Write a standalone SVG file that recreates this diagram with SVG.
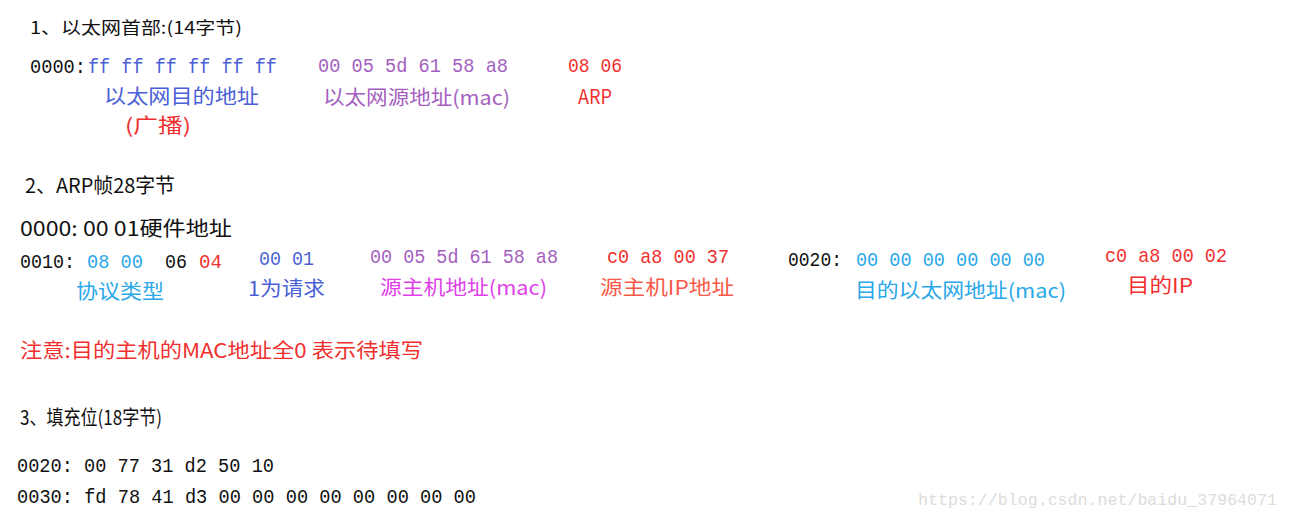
<svg xmlns="http://www.w3.org/2000/svg" width="1289" height="520" viewBox="0 0 1289 520">
<style>
.m{font-family:"Liberation Mono","Noto Sans CJK SC",monospace;font-size:21px}
.c{font-family:"Noto Sans CJK SC","Noto Sans CJK SC",sans-serif;font-size:20px}
.h{font-family:"Noto Sans CJK SC",sans-serif;font-size:17px;fill:#111}
.k{fill:#111}.b{fill:#4b5fd6}.p{fill:#a45fbf}.r{fill:#f0302f}.lb{fill:#2aa8e8}.mg{fill:#e040e8}.s{fill:#f85a4a}
</style>
<rect width="1289" height="520" fill="#fff"/>
<g id="sec1">
<text class="h" x="30" y="34" textLength="212" lengthAdjust="spacingAndGlyphs">1、以太网首部:(14字节)</text>
<text class="m k" x="30" y="73" textLength="56" lengthAdjust="spacingAndGlyphs">0000:</text>
<text class="m b" x="88" y="73" textLength="189" lengthAdjust="spacingAndGlyphs">ff ff ff ff ff ff</text>
<text class="m p" x="318" y="72" textLength="190" lengthAdjust="spacingAndGlyphs">00 05 5d 61 58 a8</text>
<text class="m r" x="568" y="72" textLength="54" lengthAdjust="spacingAndGlyphs">08 06</text>
<text class="c b" x="104" y="104" textLength="155" lengthAdjust="spacingAndGlyphs">以太网目的地址</text>
<text class="c p" x="323" y="105" textLength="187" lengthAdjust="spacingAndGlyphs">以太网源地址(mac)</text>
<text class="c r" x="578" y="104" textLength="34" lengthAdjust="spacingAndGlyphs">ARP</text>
<text class="c r" x="125" y="133" textLength="66" lengthAdjust="spacingAndGlyphs">(广播)</text>
</g>
<g id="sec2">
<text class="c k" x="25" y="193" textLength="150" lengthAdjust="spacingAndGlyphs">2、ARP帧28字节</text>
<text class="c k" x="20" y="236" textLength="212" lengthAdjust="spacingAndGlyphs">0000: 00 01硬件地址</text>
<text class="m k" x="20" y="268" textLength="55" lengthAdjust="spacingAndGlyphs">0010:</text>
<text class="m lb" x="87" y="268" textLength="56" lengthAdjust="spacingAndGlyphs">08 00</text>
<text class="m k" x="165" y="268" textLength="22" lengthAdjust="spacingAndGlyphs">06</text>
<text class="m r" x="199" y="268" textLength="23" lengthAdjust="spacingAndGlyphs">04</text>
<text class="m b" x="259" y="265" textLength="55" lengthAdjust="spacingAndGlyphs">00 01</text>
<text class="m p" x="370" y="263" textLength="188" lengthAdjust="spacingAndGlyphs">00 05 5d 61 58 a8</text>
<text class="m r" x="607" y="263" textLength="122" lengthAdjust="spacingAndGlyphs">c0 a8 00 37</text>
<text class="m k" x="788" y="266" textLength="54" lengthAdjust="spacingAndGlyphs">0020:</text>
<text class="m lb" x="856" y="266" textLength="189" lengthAdjust="spacingAndGlyphs">00 00 00 00 00 00</text>
<text class="m r" x="1105" y="262" textLength="122" lengthAdjust="spacingAndGlyphs">c0 a8 00 02</text>
<text class="c lb" x="76" y="299" textLength="88" lengthAdjust="spacingAndGlyphs">协议类型</text>
<text class="c b" x="248" y="296" textLength="77" lengthAdjust="spacingAndGlyphs">1为请求</text>
<text class="c mg" x="380" y="295" textLength="167" lengthAdjust="spacingAndGlyphs">源主机地址(mac)</text>
<text class="c s" x="600" y="295" textLength="134" lengthAdjust="spacingAndGlyphs">源主机IP地址</text>
<text class="c lb" x="855" y="298" textLength="211" lengthAdjust="spacingAndGlyphs">目的以太网地址(mac)</text>
<text class="c r" x="1127" y="293" textLength="66" lengthAdjust="spacingAndGlyphs">目的IP</text>
<text class="c r" x="20" y="358" textLength="403" lengthAdjust="spacingAndGlyphs">注意:目的主机的MAC地址全0 表示待填写</text>
</g>
<g id="sec3">
<text class="c k" x="20" y="425" textLength="142" lengthAdjust="spacingAndGlyphs">3、填充位(18字节)</text>
<text class="m k" x="17" y="472" textLength="257" lengthAdjust="spacingAndGlyphs">0020: 00 77 31 d2 50 10</text>
<text class="m k" x="17" y="503" textLength="459" lengthAdjust="spacingAndGlyphs">0030: fd 78 41 d3 00 00 00 00 00 00 00 00</text>
</g>
<text x="918" y="505" font-family="Liberation Mono, monospace" font-size="17" fill="#dcdcdc" textLength="359" lengthAdjust="spacingAndGlyphs">https://blog.csdn.net/baidu_37964071</text>
</svg>
